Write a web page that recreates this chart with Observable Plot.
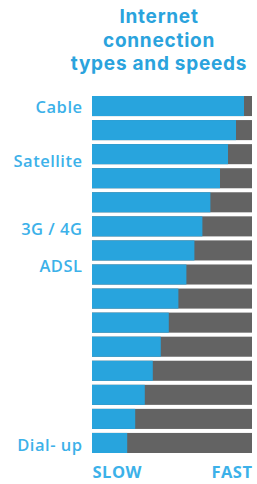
<!DOCTYPE html>
<html>
<head>
<meta charset="utf-8">
<script src="https://cdn.jsdelivr.net/npm/d3@7"></script>
<script src="https://cdn.jsdelivr.net/npm/@observablehq/plot@0.6"></script>
<style>
  html, body { margin: 0; padding: 0; background: #fff; }
  #title {
    width: 196px; margin-left: 61px; height: 80px; box-sizing: border-box;
    padding-top: 5px;
    font-family: Inter, "Open Sans", sans-serif; font-weight: 700;
    font-size: 19px; line-height: 23.5px; letter-spacing: 0.75px; color: #2aa3dd; text-align: center;
  }
  #chart svg { display: block; }
  #chart svg g[aria-label="y-axis tick label"] text,
  #chart svg g[aria-label="x-axis tick label"] text { letter-spacing: 0.5px; }
</style>
</head>
<body>
<div id="title">Internet<br>connection<br>types and speeds</div>
<div id="chart"></div>
<script>
// Share of each bar that is "slow" (blue), percent of full bar
const ranks = [0,1,2,3,4,5,6,7,8,9,10,11,12,13,14];
const slowShare = [95, 90, 85, 80, 74, 69, 64, 59, 54, 48, 43, 38, 33, 27, 22];
const fullScale = 100;
// Category labels and their vertical position on the bar-rank scale
const typeLabels = ["Cable", "Satellite", "3G / 4G", "ADSL", "Dial- up"];
const typeLabelPos = [0.55, 2.8, 5.6, 7.15, 14.6];
const speedLabels = ["SLOW", "FAST"];
const speedPos = [0, 100];

const rows = ranks.map((r, i) => ({rank: r, slow: slowShare[i]}));

const blue = "#28a4dd";
const gray = "#636363";
const labelBlue = "#3cb1e9";

const plot = Plot.plot({
  width: 257,
  height: 404,
  marginLeft: 92,
  marginRight: 5,
  marginTop: 14,
  marginBottom: 29,
  style: {fontFamily: "'Open Sans', Roboto, sans-serif", background: "#fff"},
  x: {domain: [0, fullScale], axis: null},
  y: {domain: [0, 15], reverse: true, axis: null},
  marks: [
    Plot.rectX(rows, {x1: 0, x2: fullScale, y: "rank", interval: 1, insetTop: 2, insetBottom: 2, fill: gray}),
    Plot.rectX(rows, {x1: 0, x2: "slow", y: "rank", interval: 1, insetTop: 2, insetBottom: 2, fill: blue}),
    Plot.axisY(typeLabelPos, {
      tickSize: 0, tickPadding: 10, fontSize: 16.5, fontWeight: 600, fill: labelBlue,
      tickFormat: (d, i) => typeLabels[i], label: null
    }),
    Plot.axisX([speedPos[0]], {
      tickSize: 0, tickPadding: 11, fontSize: 16.5, fontWeight: 700, fill: labelBlue,
      textAnchor: "start", tickFormat: () => speedLabels[0], label: null
    }),
    Plot.axisX([speedPos[1]], {
      tickSize: 0, tickPadding: 11, fontSize: 16.5, fontWeight: 700, fill: labelBlue,
      textAnchor: "end", tickFormat: () => speedLabels[1], label: null
    })
  ]
});
document.getElementById("chart").appendChild(plot);
</script>
</body>
</html>
